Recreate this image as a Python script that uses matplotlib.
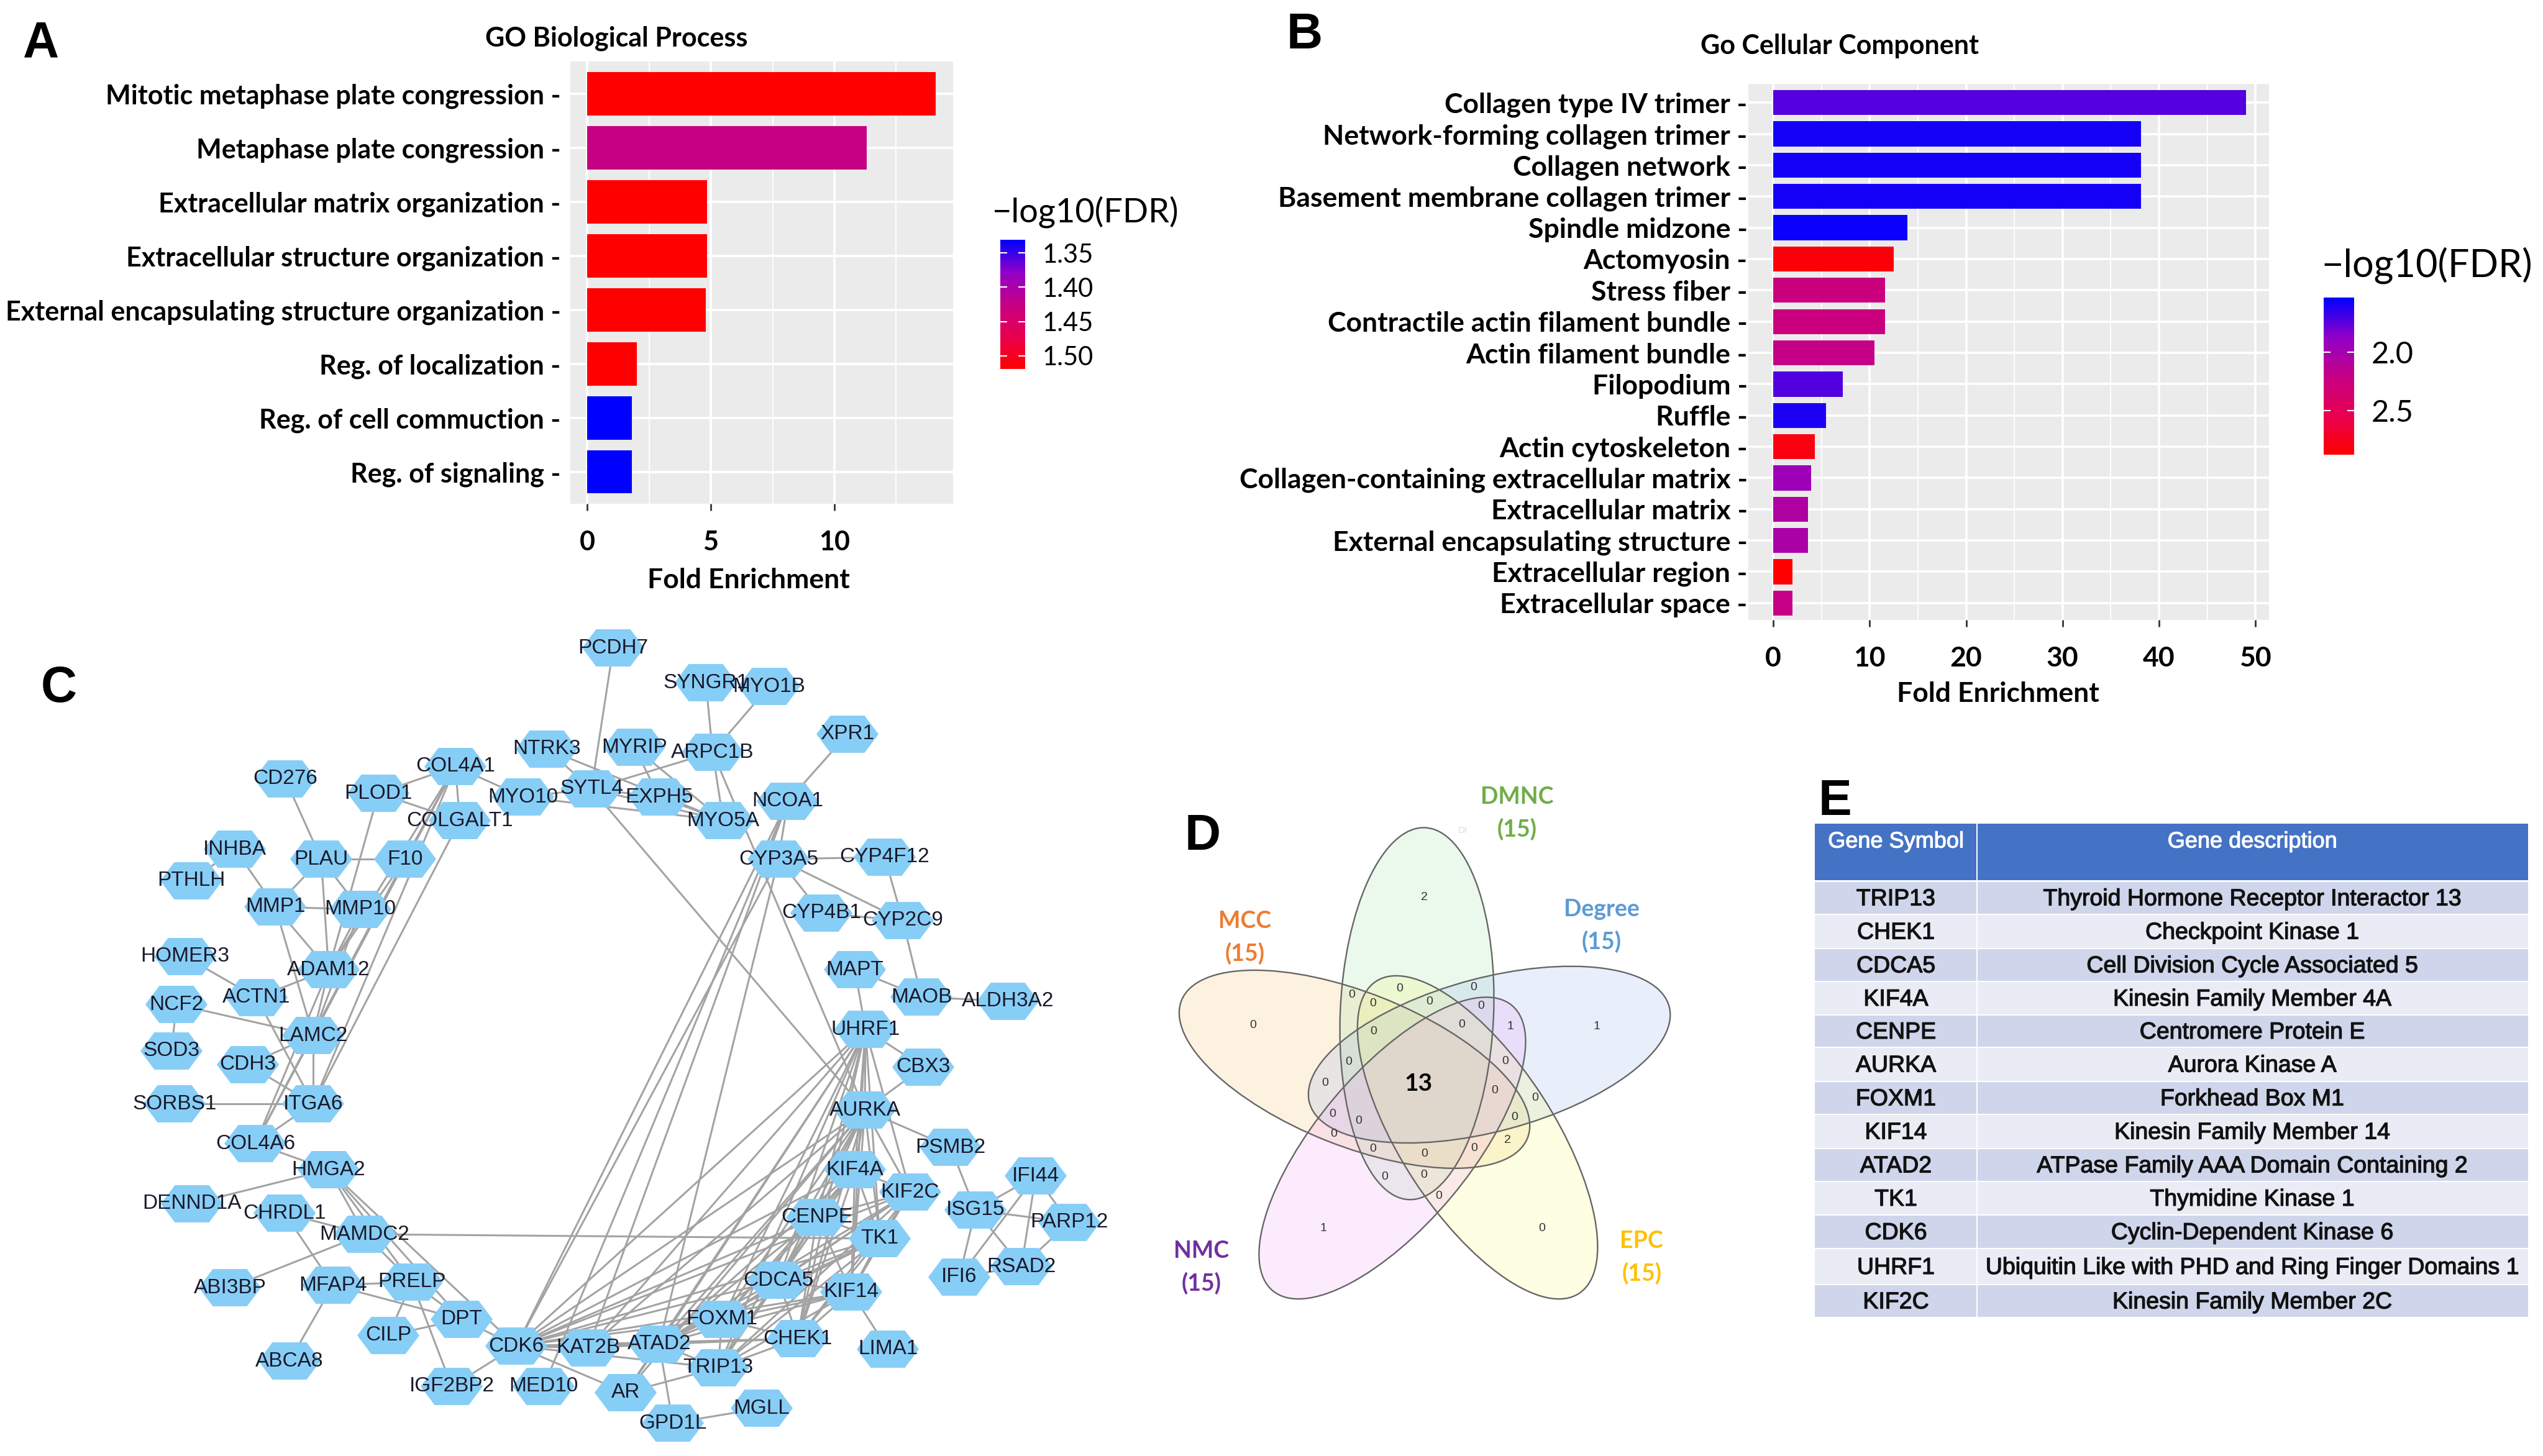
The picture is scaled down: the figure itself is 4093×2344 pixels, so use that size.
import itertools
import matplotlib
matplotlib.use("Agg")
import matplotlib.pyplot as plt
import matplotlib.patheffects as pe
from matplotlib.cm import ScalarMappable
from matplotlib.colors import LinearSegmentedColormap, Normalize
from matplotlib.patches import Ellipse, Polygon, Rectangle

W, H = 4093, 2344
LABEL_FONT = "Lato"
NET_FONT = "Liberation Sans"

# panel A
bp_terms = ["Mitotic metaphase plate congression", "Metaphase plate congression",
            "Extracellular matrix organization", "Extracellular structure organization",
            "External encapsulating structure organization", "Reg. of localization",
            "Reg. of cell commuction", "Reg. of signaling"]
bp_fold = [14.1, 11.3, 4.85, 4.85, 4.8, 2.0, 1.8, 1.8]
bp_fdr = [1.519, 1.425, 1.519, 1.519, 1.519, 1.519, 1.331, 1.331]

# panel B
cc_terms = ["Collagen type IV trimer", "Network-forming collagen trimer", "Collagen network",
            "Basement membrane collagen trimer", "Spindle midzone", "Actomyosin", "Stress fiber",
            "Contractile actin filament bundle", "Actin filament bundle", "Filopodium", "Ruffle",
            "Actin cytoskeleton", "Collagen-containing extracellular matrix", "Extracellular matrix",
            "External encapsulating structure", "Extracellular region", "Extracellular space"]
cc_fold = [49.0, 38.1, 38.1, 38.1, 13.9, 12.5, 11.6, 11.6, 10.5, 7.2, 5.5, 4.3, 3.9, 3.6, 3.6, 2.0, 2.0]
cc_fdr = [1.73, 1.58, 1.58, 1.58, 1.56, 2.84, 2.25, 2.25, 2.2, 1.72, 1.6, 2.82, 1.95, 2.06, 2.03, 2.88, 2.2]

# panel C, node positions
node_names = ["CD276", "PLOD1", "COL4A1", "COLGALT1", "MYO10", "NTRK3", "SYTL4", "PCDH7", "INHBA", "PTHLH",
              "PLAU", "F10", "MMP1", "MMP10", "HOMER3", "ADAM12", "ACTN1", "NCF2", "LAMC2", "SOD3",
              "CDH3", "SORBS1", "ITGA6", "COL4A6", "HMGA2", "DENND1A", "CHRDL1", "MAMDC2", "ABI3BP", "MFAP4",
              "PRELP", "DPT", "CILP", "ABCA8", "CDK6", "IGF2BP2", "MED10", "KAT2B", "SYNGR1", "MYO1B",
              "XPR1", "MYRIP", "ARPC1B", "EXPH5", "NCOA1", "MYO5A", "CYP3A5", "CYP4F12", "CYP4B1", "CYP2C9",
              "MAPT", "MAOB", "ALDH3A2", "UHRF1", "CBX3", "AURKA", "PSMB2", "KIF4A", "KIF2C", "IFI44",
              "ISG15", "CENPE", "PARP12", "TK1", "RSAD2", "IFI6", "CDCA5", "KIF14", "FOXM1", "CHEK1",
              "ATAD2", "LIMA1", "TRIP13", "AR", "MGLL", "GPD1L"]
node_x = [459, 609, 733, 740, 842, 880, 952, 987, 378, 308,
          517, 652, 443, 580, 298, 529, 413, 284, 504, 276,
          399, 281, 504, 411, 529, 309, 458, 587, 370, 536,
          663, 743, 625, 466, 831, 727, 875, 947, 1136, 1238,
          1364, 1021, 1147, 1061, 1268, 1164, 1253, 1424, 1322, 1453,
          1376, 1483, 1622, 1393, 1486, 1392, 1530, 1376, 1465, 1667,
          1570, 1315, 1721, 1416, 1644, 1544, 1253, 1370, 1162, 1284,
          1061, 1429, 1156, 1007, 1226, 1083]
node_y = [1254, 1277, 1234, 1321, 1283, 1206, 1270, 1043, 1367, 1418,
          1383, 1383, 1460, 1464, 1540, 1561, 1606, 1617, 1667, 1692,
          1714, 1777, 1777, 1841, 1883, 1938, 1953, 1987, 2073, 2069,
          2064, 2124, 2150, 2191, 2167, 2232, 2232, 2170, 1099, 1105,
          1182, 1203, 1211, 1283, 1290, 1321, 1383, 1380, 1470, 1482,
          1561, 1605, 1612, 1657, 1718, 1787, 1847, 1883, 1919, 1893,
          1948, 1960, 1968, 1994, 2039, 2056, 2061, 2080, 2124, 2155,
          2164, 2172, 2202, 2242, 2267, 2291]
hub_genes = ["UHRF1", "AURKA", "KIF4A", "KIF2C", "CENPE", "TK1", "CDCA5", "KIF14",
             "FOXM1", "CHEK1", "ATAD2", "TRIP13", "CDK6"]
other_edges = [("CD276", "PLAU"), ("PLOD1", "COL4A1"), ("PLOD1", "COLGALT1"), ("PLOD1", "ADAM12"),
               ("COL4A1", "MYO10"), ("COL4A1", "COLGALT1"), ("COL4A1", "F10"), ("COL4A1", "ADAM12"),
               ("COL4A1", "LAMC2"), ("COL4A1", "COL4A6"), ("COL4A1", "ITGA6"), ("COLGALT1", "ITGA6"),
               ("MYO10", "SYTL4"), ("MYO10", "MYO5A"), ("NTRK3", "SYTL4"), ("NTRK3", "MYO5A"),
               ("SYTL4", "EXPH5"), ("SYTL4", "MYO5A"), ("SYTL4", "ARPC1B"), ("SYTL4", "AURKA"),
               ("PCDH7", "SYTL4"), ("MYRIP", "MYO5A"), ("MYRIP", "EXPH5"), ("EXPH5", "MYO5A"),
               ("SYNGR1", "ARPC1B"), ("MYO1B", "ARPC1B"), ("ARPC1B", "MYO5A"), ("ARPC1B", "AURKA"),
               ("XPR1", "NCOA1"), ("NCOA1", "CYP3A5"), ("NCOA1", "CDK6"), ("NCOA1", "KAT2B"),
               ("NCOA1", "MED10"), ("CYP3A5", "ATAD2"), ("CYP3A5", "CDK6"), ("CYP3A5", "CYP4F12"),
               ("CYP3A5", "CYP4B1"), ("CYP3A5", "CYP2C9"), ("CYP4F12", "CYP2C9"), ("CYP4B1", "CYP2C9"),
               ("CYP2C9", "MAOB"), ("MAPT", "MAOB"), ("MAPT", "UHRF1"), ("MAOB", "ALDH3A2"),
               ("UHRF1", "CBX3"), ("CBX3", "AURKA"), ("AURKA", "PSMB2"), ("PSMB2", "ISG15"),
               ("ISG15", "IFI44"), ("ISG15", "PARP12"), ("ISG15", "IFI6"), ("ISG15", "RSAD2"),
               ("IFI44", "PARP12"), ("IFI44", "RSAD2"), ("IFI44", "IFI6"), ("PARP12", "RSAD2"),
               ("IFI6", "RSAD2"), ("KIF14", "LIMA1"), ("ATAD2", "GPD1L"), ("GPD1L", "MGLL"),
               ("ITGA6", "COL4A6"), ("COL4A6", "LAMC2"), ("COL4A6", "ADAM12"), ("COL4A6", "F10"),
               ("COL4A6", "HMGA2"), ("AR", "ATAD2"), ("AR", "TRIP13"), ("AR", "AURKA"), ("AR", "UHRF1"),
               ("KAT2B", "AURKA"), ("KAT2B", "ATAD2"), ("KAT2B", "CDK6"), ("KAT2B", "UHRF1"),
               ("CDK6", "AR"), ("CDK6", "IGF2BP2"), ("HMGA2", "CDK6"), ("HMGA2", "DPT"),
               ("HMGA2", "PRELP"), ("HMGA2", "MAMDC2"), ("HMGA2", "DENND1A"), ("MAMDC2", "TK1"),
               ("MAMDC2", "PRELP"), ("MAMDC2", "ABI3BP"), ("CHRDL1", "MAMDC2"), ("CHRDL1", "MFAP4"),
               ("MFAP4", "ABCA8"), ("MFAP4", "PRELP"), ("MFAP4", "DPT"), ("PRELP", "DPT"),
               ("PRELP", "CILP"), ("PRELP", "IGF2BP2"), ("CILP", "DPT"), ("DPT", "CDK6"),
               ("INHBA", "PTHLH"), ("INHBA", "MMP1"), ("PLAU", "F10"), ("PLAU", "MMP1"), ("PLAU", "MMP10"),
               ("PLAU", "ADAM12"), ("MMP1", "MMP10"), ("MMP1", "ADAM12"), ("MMP1", "LAMC2"),
               ("MMP10", "ADAM12"), ("MMP10", "LAMC2"), ("F10", "ADAM12"), ("F10", "LAMC2"),
               ("HOMER3", "ACTN1"), ("ACTN1", "ADAM12"), ("ACTN1", "ITGA6"), ("NCF2", "SOD3"),
               ("NCF2", "LAMC2"), ("CDH3", "LAMC2"), ("CDH3", "ITGA6"), ("SORBS1", "ITGA6"),
               ("LAMC2", "ITGA6"), ("LAMC2", "ADAM12")]

# panel D
venn_names = ["MCC", "DMNC", "Degree", "EPC", "NMC"]
venn_totals = ["(15)", "(15)", "(15)", "(15)", "(15)"]
venn_colors = ["#ED7D31", "#70AD47", "#5B9BD5", "#FFC000", "#7030A0"]
venn_fill = ["#F5BE64", "#9BDCA0", "#8FB0EC", "#F5FB6E", "#EE9CF5"]
venn_cx = [575, 750, 953, 920, 681]
venn_cy = [856, 700, 815, 1047, 1077]
venn_angle = [21.7, 92.5, -15, 57, -50]
venn_lx = [268, 1030, 1268, 1380, 145]
venn_ly = [435, 87, 402, 1333, 1360]
count_vals = ["0", "2", "1", "0", "1", "0", "0", "0", "0", "0", "1", "0", "0", "0", "0", "0", "0",
              "0", "0", "0", "0", "2", "0", "0", "0", "0", "0", "0", "0", "0"]
count_x = [290, 770, 1255, 1100, 488, 568, 627, 702, 785, 908, 1012, 930, 875, 628, 558, 492, 998,
           968, 1082, 1024, 514, 1004, 910, 772, 626, 516, 587, 660, 770, 812]
count_y = [732, 373, 736, 1302, 1302, 648, 672, 630, 667, 626, 736, 678, 730, 750, 835, 894, 834,
           915, 937, 991, 981, 1055, 1077, 1093, 1079, 1037, 1000, 1157, 1153, 1212]

# panel E
gene_symbols = ["TRIP13", "CHEK1", "CDCA5", "KIF4A", "CENPE", "AURKA", "FOXM1",
                "KIF14", "ATAD2", "TK1", "CDK6", "UHRF1", "KIF2C"]
gene_desc = ["Thyroid Hormone Receptor Interactor 13", "Checkpoint Kinase 1", "Cell Division Cycle Associated 5",
             "Kinesin Family Member 4A", "Centromere Protein E", "Aurora Kinase A", "Forkhead Box M1",
             "Kinesin Family Member 14", "ATPase Family AAA Domain Containing 2", "Thymidine Kinase 1",
             "Cyclin-Dependent Kinase 6", "Ubiquitin Like with PHD and Ring Finger Domains 1",
             "Kinesin Family Member 2C"]
row_edges = [1419, 1472, 1527, 1580, 1634, 1686, 1741, 1794, 1849, 1902, 1956, 2010, 2068, 2121]

fdr_cmap = LinearSegmentedColormap.from_list(
    "fdr", ["#0000FF", "#9000C8", "#C60085", "#E80050", "#FF0000"])

fig = plt.figure(figsize=(W / 100, H / 100), dpi=100, facecolor="white")


def axes_px(left, top, right, bottom):
    return fig.add_axes([left / W, 1 - bottom / H, (right - left) / W, (bottom - top) / H])


bg = axes_px(0, 0, W, H)
bg.set_xlim(0, W)
bg.set_ylim(H, 0)
bg.axis("off")


def bar_panel(box, terms, fold, fdr, vmin, vmax, xlim, ylim, xticks, minor, label_size, label_pad):
    ax = axes_px(*box)
    ax.set_facecolor("#EBEBEB")
    ypos = list(range(len(terms), 0, -1))
    norm = Normalize(vmin, vmax)
    ax.barh(ypos, fold, height=0.8, color=[fdr_cmap(norm(v)) for v in fdr], zorder=3)
    ax.set_xlim(*xlim)
    ax.set_ylim(*ylim)
    ax.set_xticks(xticks)
    ax.set_xticks(minor, minor=True)
    ax.set_yticks(ypos)
    ax.set_yticklabels([t + " -" for t in terms], fontfamily=LABEL_FONT, fontweight="bold",
                        fontsize=label_size, color="black")
    ax.grid(True, which="major", color="white", lw=2.6, zorder=1)
    ax.grid(True, which="minor", axis="x", color="white", lw=1.3, zorder=1)
    ax.tick_params(axis="y", length=0, pad=label_pad)
    ax.tick_params(axis="x", which="major", length=8, width=2, color="#333333", pad=22,
                   labelsize=label_size)
    ax.tick_params(axis="x", which="minor", length=0)
    for lab in ax.get_xticklabels():
        lab.set_fontfamily(LABEL_FONT)
        lab.set_fontweight("bold")
    for s in ax.spines.values():
        s.set_visible(False)
    return norm


def color_legend(box, norm, ticks, labels, size):
    cax = axes_px(*box)
    cb = fig.colorbar(ScalarMappable(norm=norm, cmap=fdr_cmap), cax=cax)
    cb.outline.set_visible(False)
    cb.set_ticks(ticks)
    cb.set_ticklabels(labels)
    cax.invert_yaxis()
    cax.tick_params(axis="y", direction="in", color="white", length=8, width=1.5, left=True,
                    right=True, pad=20, labelsize=size)
    for lab in cax.get_yticklabels():
        lab.set_fontfamily(LABEL_FONT)


norm_a = bar_panel((918, 99, 1534, 811), bp_terms, bp_fold, bp_fdr, 1.331, 1.519,
                   (-0.68, 14.8), (0.41, 8.6), [0, 5, 10], [2.5, 7.5, 12.5], 31, 11)
color_legend((1610, 386, 1650, 594), norm_a, [1.35, 1.40, 1.45, 1.50],
             ["1.35", "1.40", "1.45", "1.50"], 30)
norm_b = bar_panel((2814, 135, 3652, 998), cc_terms, cc_fold, cc_fdr, 1.53, 2.88,
                   (-2.58, 51.4), (0.46, 17.6), [0, 10, 20, 30, 40, 50],
                   [5, 15, 25, 35, 45], 32, 1)
color_legend((3740, 479, 3789, 732), norm_b, [2.0, 2.5], ["2.0", "2.5"], 35)

text_style = dict(family=LABEL_FONT, ha="center", va="center", color="black")
bg.text(992, 62, "GO Biological Process", fontsize=31, fontweight="bold", **text_style)
bg.text(2961, 74, "Go Cellular Component", fontsize=31, fontweight="bold", **text_style)
bg.text(1205, 934, "Fold Enrichment", fontsize=32, fontweight="bold", **text_style)
bg.text(3216, 1117, "Fold Enrichment", fontsize=32, fontweight="bold", **text_style)
bg.text(1747, 341, "\u2212log10(FDR)", fontsize=39, **text_style)
bg.text(3906, 427, "\u2212log10(FDR)", fontsize=44, **text_style)

panel_x = [66, 2100, 95, 1936, 2953]
panel_y = [71, 57, 1109, 1347, 1291]
for name, px, py in zip("ABCDE", panel_x, panel_y):
    bg.text(px, py, name, fontsize=58, fontweight="bold", family=NET_FONT,
            ha="center", va="center", color="black")

# network
pos = {n: (x, y) for n, x, y in zip(node_names, node_x, node_y)}
edges = other_edges + list(itertools.combinations(hub_genes, 2))
for a, b in edges:
    bg.plot([pos[a][0], pos[b][0]], [pos[a][1], pos[b][1]], color="#A3A3A3", lw=2.2,
            zorder=1, solid_capstyle="round")
hex_w, hex_h = 50, 30
for n, x, y in zip(node_names, node_x, node_y):
    bg.add_patch(Polygon([(x - hex_w, y), (x - hex_w * 0.55, y - hex_h), (x + hex_w * 0.55, y - hex_h),
                          (x + hex_w, y), (x + hex_w * 0.55, y + hex_h), (x - hex_w * 0.55, y + hex_h)],
                         closed=True, facecolor="#87CEF7", edgecolor="none", zorder=2))
    bg.text(x, y, n, family=NET_FONT, fontsize=24, color="#1A1A2A", ha="center", va="center", zorder=3)


def vx(v):
    return 1850 + v / 1.742


def vy(v):
    return 1230 + v / 1.742


for cx, cy, ang, fc in zip(venn_cx, venn_cy, venn_angle, venn_fill):
    bg.add_patch(Ellipse((vx(cx), vy(cy)), 2 * 522 / 1.742, 2 * 215 / 1.742, angle=ang,
                         facecolor=fc, edgecolor="none", alpha=0.2, zorder=1))
for cx, cy, ang in zip(venn_cx, venn_cy, venn_angle):
    bg.add_patch(Ellipse((vx(cx), vy(cy)), 2 * 522 / 1.742, 2 * 215 / 1.742, angle=ang,
                         facecolor="none", edgecolor="#666666", lw=1.7, zorder=2))
for t, x, y in zip(count_vals, count_x, count_y):
    bg.text(vx(x), vy(y), t, fontsize=14, family=NET_FONT, color="#333333",
            ha="center", va="center", zorder=3)
bg.text(vx(755), vy(897), "13", fontsize=28, fontweight="bold", family=LABEL_FONT,
        ha="center", va="center", color="black", zorder=3)
for name, total, col, x, y in zip(venn_names, venn_totals, venn_colors, venn_lx, venn_ly):
    bg.text(vx(x), vy(y) + 3, name, fontsize=27, family=LABEL_FONT, fontweight="bold", color=col,
            ha="center", va="center")
    bg.text(vx(x), vy(y) + 55, total, fontsize=27, family=LABEL_FONT, fontweight="bold", color=col,
            ha="center", va="center")
bg.text(vx(878), vy(186), "DI", fontsize=11, family=NET_FONT, color="#CFE6D8", ha="center", va="center")

# table
tab_l, tab_m, tab_r = 2921, 3182, 4069
stroke = [pe.withStroke(linewidth=0.9, foreground="#111111")]
stroke_w = [pe.withStroke(linewidth=0.8, foreground="white")]
bg.add_patch(Rectangle((tab_l, 1326), tab_m - tab_l - 1, 91, facecolor="#4472C4", edgecolor="none"))
bg.add_patch(Rectangle((tab_m + 1, 1326), tab_r - tab_m - 1, 91, facecolor="#4472C4", edgecolor="none"))
bg.text((tab_l + tab_m) / 2, 1355, "Gene Symbol", fontsize=26, family=NET_FONT, color="white",
        ha="center", va="center", path_effects=stroke_w)
bg.text(3625, 1355, "Gene description", fontsize=26, family=NET_FONT, color="white",
        ha="center", va="center", path_effects=stroke_w)
for i, (sym, desc) in enumerate(zip(gene_symbols, gene_desc)):
    top, bot = row_edges[i], row_edges[i + 1]
    col = "#CFD5EA" if i % 2 == 0 else "#E9EBF5"
    bg.add_patch(Rectangle((tab_l, top + 1), tab_m - tab_l - 1, bot - top - 2, facecolor=col, edgecolor="none"))
    bg.add_patch(Rectangle((tab_m + 1, top + 1), tab_r - tab_m - 1, bot - top - 2, facecolor=col, edgecolor="none"))
    yc = (top + bot) / 2 + 2
    bg.text((tab_l + tab_m) / 2, yc, sym, fontsize=27, family=NET_FONT, color="#111111",
            ha="center", va="center", path_effects=stroke)
    bg.text(3625, yc, desc, fontsize=27, family=NET_FONT, color="#111111", ha="center", va="center",
            path_effects=stroke)

fig.savefig("out.png", dpi=100)
